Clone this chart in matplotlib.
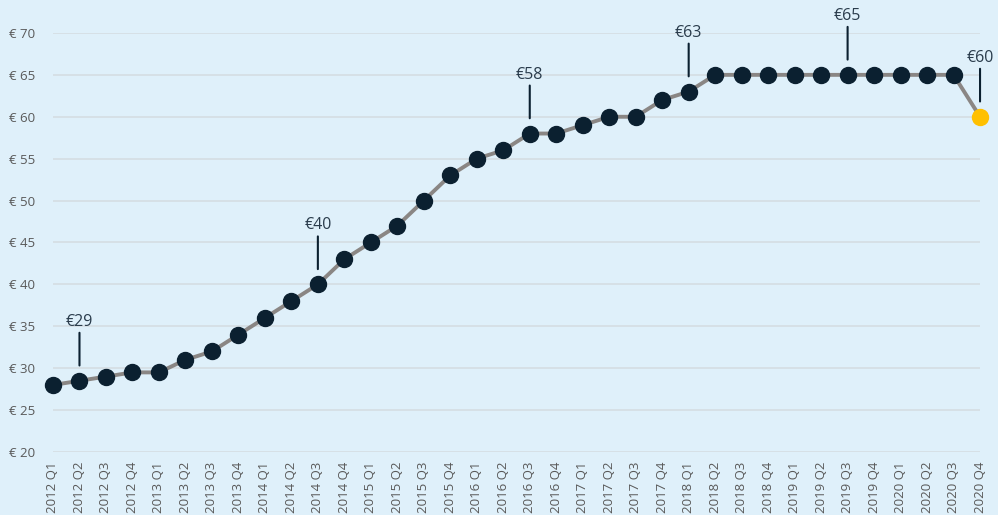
import matplotlib.pyplot as plt

# quarterly price data
quarters = [f"{y} Q{q}" for y in range(2012, 2021) for q in range(1, 5)]
prices = [28, 28.5, 29, 29.5,
          29.5, 31, 32, 34,
          36, 38, 40, 43,
          45, 47, 50, 53,
          55, 56, 58, 58,
          59, 60, 60, 62,
          63, 65, 65, 65,
          65, 65, 65, 65,
          65, 65, 65, 60]

# callouts: (quarter index, label)
callout_idx = [1, 10, 18, 24, 30, 35]
callout_txt = ["€29", "€40", "€58", "€63", "€65", "€60"]

y_ticks = [20, 25, 30, 35, 40, 45, 50, 55, 60, 65, 70]

bg = "#dff0fa"
navy = "#0b2030"
grey_line = "#8a8684"
yellow = "#ffc000"

plt.rcParams['font.family'] = ['Open Sans', 'DejaVu Sans']

fig = plt.figure(figsize=(9.98, 5.15), dpi=100)
fig.patch.set_facecolor(bg)
ax = fig.add_axes([0.0531, 0.1223, 0.9289, 0.8137])
ax.set_facecolor(bg)

x = list(range(len(quarters)))
ax.plot(x, prices, color=grey_line, lw=2.8, zorder=2, clip_on=False)
ax.plot(x[:-1], prices[:-1], 'o', color=navy, ms=11.5, zorder=3, clip_on=False)
ax.plot(x[-1:], prices[-1:], 'o', color=yellow, ms=11.5, zorder=3, clip_on=False)

# vertical leader lines + labels, offsets in pixels
for i, t in zip(callout_idx, callout_txt):
    ax.annotate("", xy=(i, prices[i]), xytext=(0, 48), textcoords='offset pixels',
                xycoords='data', annotation_clip=False,
                arrowprops=dict(arrowstyle='-', color=navy, lw=1.5,
                                shrinkA=0, shrinkB=11))
    ax.annotate(t, xy=(i, prices[i]), xytext=(0, 59), textcoords='offset pixels',
                ha='center', va='center', fontsize=11.5, color="#2a3c4c",
                annotation_clip=False)

ax.set_xlim(0, len(quarters) - 1)
ax.set_ylim(20, 70)
ax.set_yticks(y_ticks)
ax.set_yticklabels([f"€ {v}" for v in y_ticks])
ax.set_xticks(x)
ax.set_xticklabels(quarters, rotation=90, va='top', ha='center')
ax.tick_params(axis='both', length=0, colors="#595959", labelsize=9.5)
ax.tick_params(axis='y', pad=13)
ax.tick_params(axis='x', pad=7)
ax.grid(axis='y', color="#d5dde2", lw=1.2)
ax.set_axisbelow(True)
for s in ax.spines.values():
    s.set_visible(False)

fig.savefig("out.png", dpi=100, facecolor=bg)
